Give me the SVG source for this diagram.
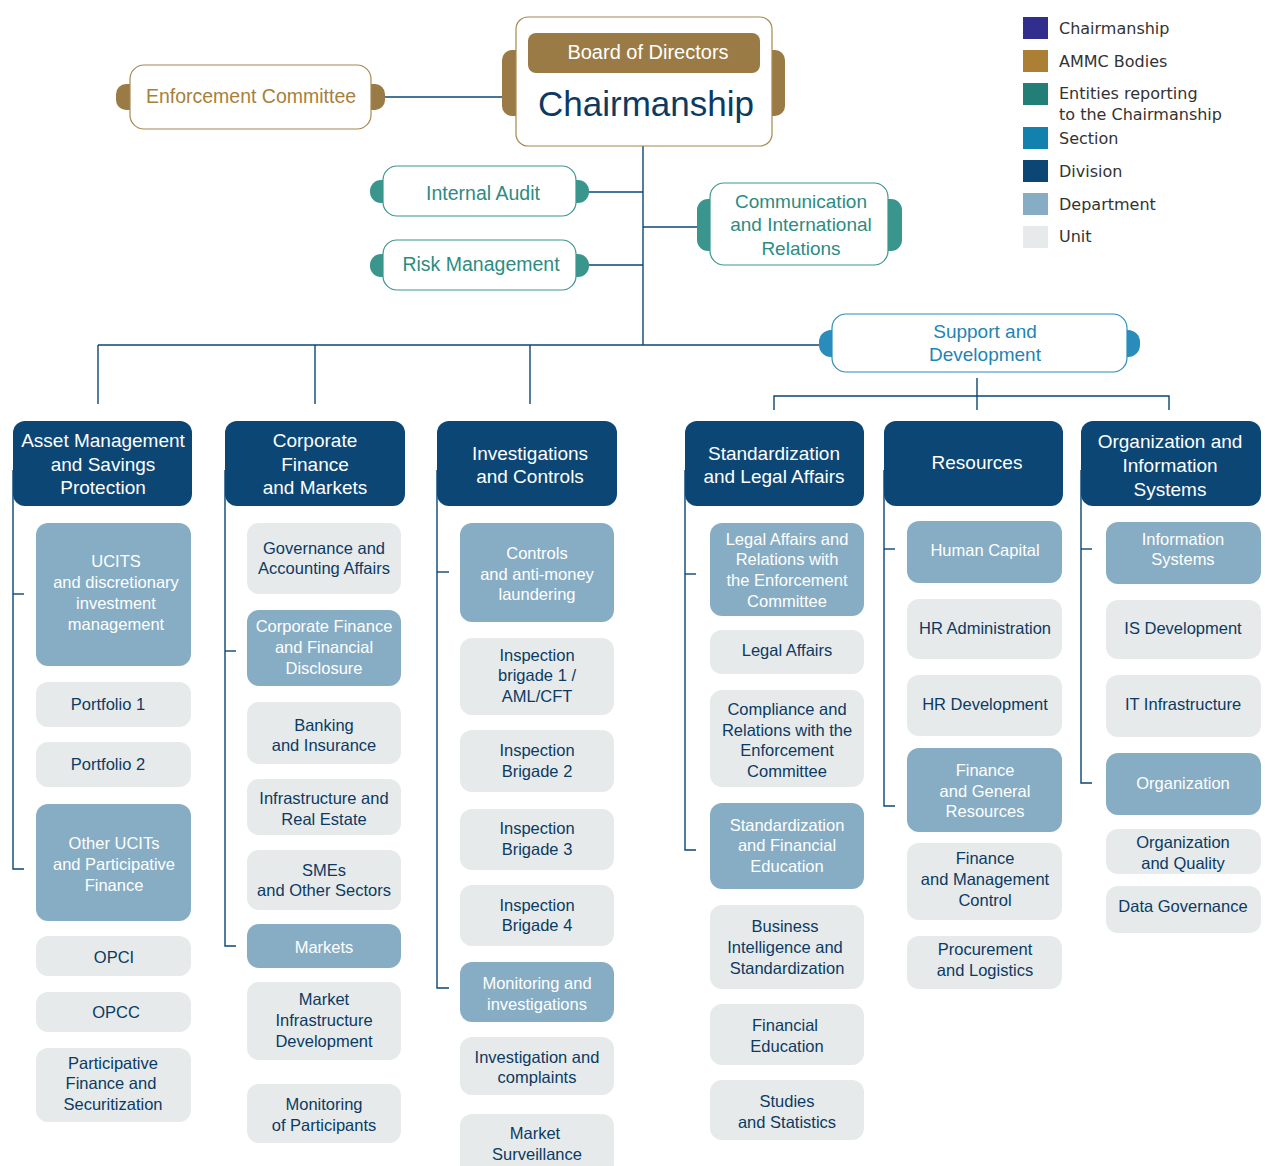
<svg xmlns="http://www.w3.org/2000/svg" width="1265" height="1166" viewBox="0 0 1265 1166">
<style>
text{font-family:"Liberation Sans",Arial,sans-serif;text-anchor:middle}
.conn line,.conn polyline{stroke:#0b4675;stroke-width:1.4;fill:none}
.div rect{fill:#0b4675}
.div text{fill:#fff;font-size:19px}
.dept rect{fill:#86adc4}
.dept text{fill:#fff;font-size:16.5px}
.unit rect{fill:#e6eaea}
.unit text{fill:#0c3a63;font-size:16.5px}
.gold{fill:#9b7b45}
.teal{fill:#3a968c}
.sec{fill:#2a8cba}
.leg text{text-anchor:start;font-size:16px;fill:#333;font-family:"DejaVu Sans",Verdana,sans-serif}
</style>
<rect width="1265" height="1166" fill="#fff"/>
<g class="conn">
<line x1="385" y1="97" x2="502" y2="97"/>
<line x1="643" y1="146" x2="643" y2="345"/>
<line x1="589" y1="192" x2="643" y2="192"/>
<line x1="589" y1="265" x2="643" y2="265"/>
<line x1="643" y1="227" x2="697" y2="227"/>
<line x1="98" y1="345" x2="819" y2="345"/>
<line x1="98" y1="345" x2="98" y2="404"/>
<line x1="315" y1="345" x2="315" y2="404"/>
<line x1="530" y1="345" x2="530" y2="404"/>
<line x1="977" y1="378" x2="977" y2="410"/>
<polyline points="774,410 774,396 1169,396 1169,410"/>
<polyline points="13,470 13,869 24,869"/><line x1="13" y1="594" x2="24" y2="594"/>
<polyline points="225,470 225,946 236,946"/><line x1="225" y1="651" x2="236" y2="651"/>
<polyline points="437,470 437,988 449,988"/><line x1="437" y1="572" x2="449" y2="572"/>
<polyline points="685,470 685,850 696,850"/><line x1="685" y1="574" x2="696" y2="574"/>
<polyline points="884,470 884,806 895,806"/><line x1="884" y1="549" x2="895" y2="549"/>
<polyline points="1081,470 1081,783 1092,783"/><line x1="1081" y1="549" x2="1092" y2="549"/>
</g>
<g id="chairmanship">
<rect class="gold" x="502" y="50" width="30" height="66" rx="10"/>
<rect class="gold" x="756" y="50" width="29" height="66" rx="10"/>
<rect x="516" y="17" width="256" height="129" rx="12" fill="#fff" stroke="#a8884e" stroke-width="1.2"/>
<rect x="528" y="33" width="232" height="40" rx="8" fill="#9b7b45"/>
<text x="648" y="59" fill="#fff" font-size="20">Board of Directors</text>
<text x="646" y="116" fill="#0c3a63" font-size="35">Chairmanship</text>
</g>
<g id="enforcement">
<rect class="gold" x="116" y="84" width="30" height="26" rx="10"/>
<rect class="gold" x="356" y="84" width="29" height="26" rx="10"/>
<rect x="130" y="65" width="241" height="64" rx="14" fill="#fff" stroke="#a8884e" stroke-width="1.2"/>
<text x="251" y="103" fill="#a8803a" font-size="19.5">Enforcement Committee</text>
</g>
<g id="internal-audit">
<rect class="teal" x="370" y="180" width="25" height="23" rx="11"/>
<rect class="teal" x="564" y="180" width="25" height="23" rx="11"/>
<rect x="383" y="166" width="193" height="50" rx="14" fill="#fff" stroke="#3a968c" stroke-width="1.2"/>
<text x="483" y="200" fill="#2e8b82" font-size="19.5">Internal Audit</text>
</g>
<g id="risk-management">
<rect class="teal" x="370" y="254" width="25" height="23" rx="11"/>
<rect class="teal" x="564" y="254" width="25" height="23" rx="11"/>
<rect x="383" y="240" width="193" height="50" rx="14" fill="#fff" stroke="#3a968c" stroke-width="1.2"/>
<text x="481" y="271" fill="#2e8b82" font-size="19.5">Risk Management</text>
</g>
<g id="communication">
<rect class="teal" x="697" y="199" width="25" height="52" rx="11"/>
<rect class="teal" x="877" y="199" width="25" height="52" rx="11"/>
<rect x="710" y="183" width="178" height="82" rx="14" fill="#fff" stroke="#3a968c" stroke-width="1.2"/>
<text x="801" y="208" fill="#2e8b82" font-size="19">Communication</text>
<text x="801" y="231" fill="#2e8b82" font-size="19">and International</text>
<text x="801" y="255" fill="#2e8b82" font-size="19">Relations</text>
</g>
<g id="support">
<rect class="sec" x="819" y="330" width="25" height="27" rx="12"/>
<rect class="sec" x="1115" y="330" width="25" height="27" rx="12"/>
<rect x="832" y="314" width="295" height="58" rx="14" fill="#fff" stroke="#2a8cba" stroke-width="1.2"/>
<text x="985" y="338" fill="#1e84b4" font-size="19">Support and</text>
<text x="985" y="361" fill="#1e84b4" font-size="19">Development</text>
</g>
<g id="div-asset" class="div"><rect x="13" y="421" width="179" height="85" rx="12"/>
<text x="103" y="447">Asset Management</text><text x="103" y="471">and Savings</text><text x="103" y="494">Protection</text></g>
<g id="div-corporate" class="div"><rect x="225" y="421" width="180" height="85" rx="12"/>
<text x="315" y="447">Corporate</text><text x="315" y="471">Finance</text><text x="315" y="494">and Markets</text></g>
<g id="div-investigations" class="div"><rect x="437" y="421" width="180" height="85" rx="12"/>
<text x="530" y="460">Investigations</text><text x="530" y="483">and Controls</text></g>
<g id="div-standardization" class="div"><rect x="685" y="421" width="179" height="85" rx="12"/>
<text x="774" y="460">Standardization</text><text x="774" y="483">and Legal Affairs</text></g>
<g id="div-resources" class="div"><rect x="884" y="421" width="179" height="85" rx="12"/>
<text x="977" y="469">Resources</text></g>
<g id="div-organization" class="div"><rect x="1081" y="421" width="180" height="85" rx="12"/>
<text x="1170" y="448">Organization and</text><text x="1170" y="472">Information</text><text x="1170" y="496">Systems</text></g>

<g id="ucits" class="dept"><rect x="36" y="523" width="155" height="143" rx="12"/>
<text x="116" y="567">UCITS</text><text x="116" y="588">and discretionary</text><text x="116" y="609">investment</text><text x="116" y="630">management</text></g>
<g id="portfolio1" class="unit"><rect x="36" y="682" width="155" height="45" rx="12"/><text x="108" y="710">Portfolio 1</text></g>
<g id="portfolio2" class="unit"><rect x="36" y="742" width="155" height="45" rx="12"/><text x="108" y="770">Portfolio 2</text></g>
<g id="other-ucits" class="dept"><rect x="36" y="804" width="155" height="117" rx="12"/>
<text x="114" y="849">Other UCITs</text><text x="114" y="870">and Participative</text><text x="114" y="891">Finance</text></g>
<g id="opci" class="unit"><rect x="36" y="936" width="155" height="40" rx="12"/><text x="114" y="963">OPCI</text></g>
<g id="opcc" class="unit"><rect x="36" y="992" width="155" height="40" rx="12"/><text x="116" y="1018">OPCC</text></g>
<g id="participative" class="unit"><rect x="36" y="1048" width="155" height="74" rx="12"/>
<text x="113" y="1069">Participative</text><text x="111" y="1089">Finance and</text><text x="113" y="1110">Securitization</text></g>

<g id="governance" class="unit"><rect x="247" y="523" width="154" height="71" rx="12"/>
<text x="324" y="554">Governance and</text><text x="324" y="574">Accounting Affairs</text></g>
<g id="corp-finance" class="dept"><rect x="247" y="610" width="154" height="76" rx="12"/>
<text x="324" y="632">Corporate Finance</text><text x="324" y="653">and Financial</text><text x="324" y="674">Disclosure</text></g>
<g id="banking" class="unit"><rect x="247" y="702" width="154" height="62" rx="12"/>
<text x="324" y="731">Banking</text><text x="324" y="751">and Insurance</text></g>
<g id="infrastructure" class="unit"><rect x="247" y="779" width="154" height="56" rx="12"/>
<text x="324" y="804">Infrastructure and</text><text x="324" y="825">Real Estate</text></g>
<g id="smes" class="unit"><rect x="247" y="850" width="154" height="60" rx="12"/>
<text x="324" y="876">SMEs</text><text x="324" y="896">and Other Sectors</text></g>
<g id="markets" class="dept"><rect x="247" y="924" width="154" height="44" rx="12"/><text x="324" y="953">Markets</text></g>
<g id="market-infra" class="unit"><rect x="247" y="982" width="154" height="78" rx="12"/>
<text x="324" y="1005">Market</text><text x="324" y="1026">Infrastructure</text><text x="324" y="1047">Development</text></g>
<g id="monitoring-participants" class="unit"><rect x="247" y="1084" width="154" height="59" rx="12"/>
<text x="324" y="1110">Monitoring</text><text x="324" y="1131">of Participants</text></g>

<g id="controls" class="dept"><rect x="460" y="523" width="154" height="99" rx="12"/>
<text x="537" y="559">Controls</text><text x="537" y="580">and anti-money</text><text x="537" y="600">laundering</text></g>
<g id="brigade1" class="unit"><rect x="460" y="638" width="154" height="77" rx="12"/>
<text x="537" y="661">Inspection</text><text x="537" y="681">brigade 1 /</text><text x="537" y="702">AML/CFT</text></g>
<g id="brigade2" class="unit"><rect x="460" y="730" width="154" height="62" rx="12"/>
<text x="537" y="756">Inspection</text><text x="537" y="777">Brigade 2</text></g>
<g id="brigade3" class="unit"><rect x="460" y="809" width="154" height="61" rx="12"/>
<text x="537" y="834">Inspection</text><text x="537" y="855">Brigade 3</text></g>
<g id="brigade4" class="unit"><rect x="460" y="885" width="154" height="61" rx="12"/>
<text x="537" y="911">Inspection</text><text x="537" y="931">Brigade 4</text></g>
<g id="monitoring-inv" class="dept"><rect x="460" y="962" width="154" height="60" rx="12"/>
<text x="537" y="989">Monitoring and</text><text x="537" y="1010">investigations</text></g>
<g id="inv-complaints" class="unit"><rect x="460" y="1037" width="154" height="58" rx="12"/>
<text x="537" y="1063">Investigation and</text><text x="537" y="1083">complaints</text></g>
<g id="surveillance" class="unit"><rect x="460" y="1114" width="154" height="62" rx="12"/>
<text x="535" y="1139">Market</text><text x="537" y="1160">Surveillance</text></g>

<g id="legal-relations" class="dept"><rect x="710" y="523" width="154" height="93" rx="12"/>
<text x="787" y="545">Legal Affairs and</text><text x="787" y="565">Relations with</text><text x="787" y="586">the Enforcement</text><text x="787" y="607">Committee</text></g>
<g id="legal" class="unit"><rect x="710" y="630" width="154" height="44" rx="12"/><text x="787" y="656">Legal Affairs</text></g>
<g id="compliance" class="unit"><rect x="710" y="690" width="154" height="97" rx="12"/>
<text x="787" y="715">Compliance and</text><text x="787" y="736">Relations with the</text><text x="787" y="756">Enforcement</text><text x="787" y="777">Committee</text></g>
<g id="std-fin-edu" class="dept"><rect x="710" y="803" width="154" height="86" rx="12"/>
<text x="787" y="831">Standardization</text><text x="787" y="851">and Financial</text><text x="787" y="872">Education</text></g>
<g id="bi" class="unit"><rect x="710" y="905" width="154" height="84" rx="12"/>
<text x="785" y="932">Business</text><text x="785" y="953">Intelligence and</text><text x="787" y="974">Standardization</text></g>
<g id="fin-edu" class="unit"><rect x="710" y="1004" width="154" height="61" rx="12"/>
<text x="785" y="1031">Financial</text><text x="787" y="1052">Education</text></g>
<g id="studies" class="unit"><rect x="710" y="1080" width="154" height="60" rx="12"/>
<text x="787" y="1107">Studies</text><text x="787" y="1128">and Statistics</text></g>

<g id="human-capital" class="dept"><rect x="907" y="521" width="155" height="62" rx="12"/><text x="985" y="556">Human Capital</text></g>
<g id="hr-admin" class="unit"><rect x="907" y="599" width="155" height="60" rx="12"/><text x="985" y="634">HR Administration</text></g>
<g id="hr-dev" class="unit"><rect x="907" y="675" width="155" height="61" rx="12"/><text x="985" y="710">HR Development</text></g>
<g id="fin-general" class="dept"><rect x="907" y="748" width="155" height="84" rx="12"/>
<text x="985" y="776">Finance</text><text x="985" y="797">and General</text><text x="985" y="817">Resources</text></g>
<g id="fin-mgmt" class="unit"><rect x="907" y="843" width="155" height="77" rx="12"/>
<text x="985" y="864">Finance</text><text x="985" y="885">and Management</text><text x="985" y="906">Control</text></g>
<g id="procurement" class="unit"><rect x="907" y="936" width="155" height="53" rx="12"/>
<text x="985" y="955">Procurement</text><text x="985" y="976">and Logistics</text></g>

<g id="info-systems" class="dept"><rect x="1106" y="522" width="155" height="62" rx="12"/>
<text x="1183" y="545">Information</text><text x="1183" y="565">Systems</text></g>
<g id="is-dev" class="unit"><rect x="1106" y="600" width="155" height="59" rx="12"/><text x="1183" y="634">IS Development</text></g>
<g id="it-infra" class="unit"><rect x="1106" y="675" width="155" height="62" rx="12"/><text x="1183" y="710">IT Infrastructure</text></g>
<g id="organization" class="dept"><rect x="1106" y="753" width="155" height="62" rx="12"/><text x="1183" y="789">Organization</text></g>
<g id="org-quality" class="unit"><rect x="1106" y="829" width="155" height="45" rx="12"/>
<text x="1183" y="848">Organization</text><text x="1183" y="869">and Quality</text></g>
<g id="data-gov" class="unit"><rect x="1106" y="886" width="155" height="47" rx="12"/><text x="1183" y="912">Data Governance</text></g>

<g id="legend" class="leg">
<rect x="1023" y="17" width="25" height="22" fill="#312e8e"/><text x="1059" y="34">Chairmanship</text>
<rect x="1023" y="50" width="25" height="22" fill="#ab8034"/><text x="1059" y="67">AMMC Bodies</text>
<rect x="1023" y="83" width="25" height="22" fill="#237e78"/><text x="1059" y="99">Entities reporting</text><text x="1059" y="120">to the Chairmanship</text>
<rect x="1023" y="127" width="25" height="22" fill="#1381ad"/><text x="1059" y="144">Section</text>
<rect x="1023" y="160" width="25" height="22" fill="#0b4675"/><text x="1059" y="177">Division</text>
<rect x="1023" y="193" width="25" height="22" fill="#86adc4"/><text x="1059" y="210">Department</text>
<rect x="1023" y="226" width="25" height="22" fill="#e6eaea"/><text x="1059" y="242">Unit</text>
</g>
</svg>
